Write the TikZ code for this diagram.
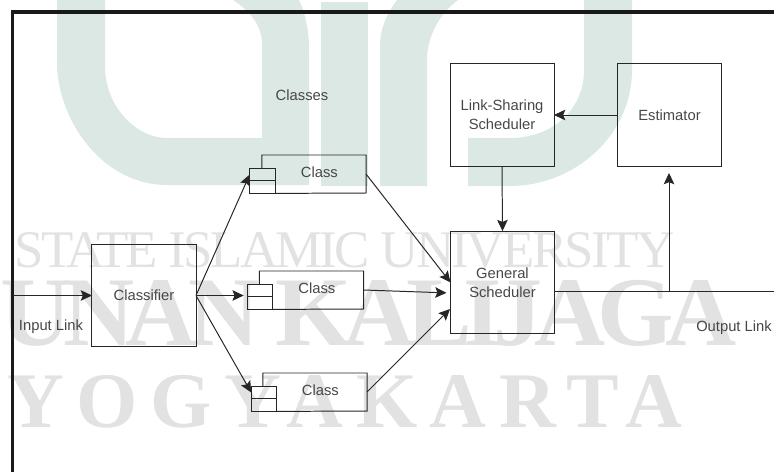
\documentclass[tikz,border=0pt]{standalone}
\usepackage{fontspec}
\setmainfont{Liberation Sans}
\newfontfamily\wmfont{Liberation Serif}
\usetikzlibrary{arrows.meta}
\definecolor{logogreen}{HTML}{DCE8E3}
\definecolor{wmgray}{HTML}{E2E2E2}
\begin{document}
\begin{tikzpicture}[
    x=0.025cm, y=-0.025cm,
    >={Stealth[length=8pt,width=7.5pt,inset=1.5pt]},
    line/.style={draw=black!85, line width=0.7pt},
    label/.style={font=\fontsize{10.5}{13.5}\selectfont, text=black!72, inner sep=0pt, align=center},
    box/.style={label, line, outer sep=0pt, minimum width=2.6cm, minimum height=2.57cm},
    classbox/.style={label, outer sep=0pt, minimum width=2.6cm, minimum height=0.95cm, text depth=3pt, execute at begin node=\hspace*{0.27cm}},
    tabbox/.style={line, outer sep=0pt, inner sep=0pt, minimum width=0.64cm, minimum height=0.32cm},
    wm/.style={inner sep=0pt, anchor=base west, text=wmgray}
]
\useasboundingbox (0,0) rectangle (774,472);
\fill[logogreen] (57,0) -- (57,67) .. controls (60,125) and (105,185) .. (167,185) -- (309,185) -- (309,50) .. controls (309,30) and (305,12) .. (299,0) -- (233,0) .. controls (252,12) and (262,28) .. (262,43) -- (262,138) -- (167,138) .. controls (135,138) and (105,105) .. (105,67) -- (105,0) -- cycle;
\fill[logogreen] (321,2) rectangle (368,186);
\fill[logogreen] (380,186) -- (380,45) .. controls (380,28) and (388,12) .. (397,0) -- (458,0) .. controls (438,15) and (427,38) .. (427,60) -- (427,186) -- cycle;
\fill[logogreen] (468,186) -- (468,138) -- (510,138) .. controls (552,138) and (584,110) .. (584,70) -- (584,0) -- (632,0) -- (632,70) .. controls (632,135) and (575,186) .. (510,186) -- cycle;
\node[wm, font=\wmfont\fontsize{37.6}{40}\selectfont\addfontfeature{LetterSpace=-5}] (wmstate) at (14,267) {STATE ISLAMIC UNIVERSITY};
\node[wm, font=\wmfont\bfseries\fontsize{70}{72}\selectfont\addfontfeature{LetterSpace=-8.5}] (wmsunan) at (0,345) {UNAN KALIJAGA};
\node[wm, font=\wmfont\bfseries\fontsize{56}{58}\selectfont\addfontfeature{LetterSpace=16}] (wmyogya) at (7,427) {YOGYAKARTA};
\draw[black!90, line width=2.5pt] (12.5,472) -- (12.5,12) -- (774,12);
\node[box] (classifier) at (144,295.5) {Classifier};
\node[box] (gen) at (502.5,282.5) {General\\Scheduler};
\node[box] (link) at (502,115) {Link-Sharing\\Scheduler};
\node[box] (est) at (669.5,115) {Estimator};
\node[classbox] (c1) at (314,174) {Class};
\node[tabbox] (c1a) at (262.5,174.5) {};
\node[tabbox] (c1b) at (262.5,187) {};
\node[classbox] (c2) at (311.5,290) {Class};
\node[tabbox] (c2a) at (260,290.5) {};
\node[tabbox] (c2b) at (260,303) {};
\node[classbox] (c3) at (315,392) {Class};
\node[tabbox] (c3a) at (264,392.5) {};
\node[tabbox] (c3b) at (264,405) {};
\draw[line] (c1a.north -| c1.west) -- (c1.north west) -- (c1.north east) -- (c1.south east) -- (c1b.south east);
\draw[line] (c2a.north -| c2.west) -- (c2.north west) -- (c2.north east) -- (c2.south east) -- (c2b.south east);
\draw[line] (c3a.north -| c3.west) -- (c3.north west) -- (c3.north east) -- (c3.south east) -- (c3b.south east);
\node[label] (classes) at (302,95) {Classes};
\node[label] (inlabel) at (51,327) {Input Link};
\node[label] (outlabel) at (734,328) {Output Link};
\coordinate (input) at (12.5,295.5);
\coordinate (output) at (774,291);
\coordinate (tap) at (669,291);
\coordinate (estin) at (669,173);
\coordinate (genmid) at (450,293);
\coordinate (genlow) at (450,309);
\draw[->, line] (input) -- (classifier.west);
\draw[->, line] (classifier.east) -- (c1a.west);
\draw[->, line, shorten >=2.5pt] (classifier.east) -- (classifier.east -| c2a.west);
\draw[->, line] (classifier.east) -- (c3a.west);
\draw[->, line] (c1.east) -- (gen.west);
\draw[->, line, shorten >=2.5pt] (c2.east) -- (genmid);
\draw[->, line] (c3.east) -- (genlow);
\draw[->, line] (est.west) -- (link.east);
\draw[->, line] (link.south) -- (gen.north);
\draw[line] (gen.east |- output) -- (output);
\draw[->, line] (tap) -- (estin);
\end{tikzpicture}
\end{document}
